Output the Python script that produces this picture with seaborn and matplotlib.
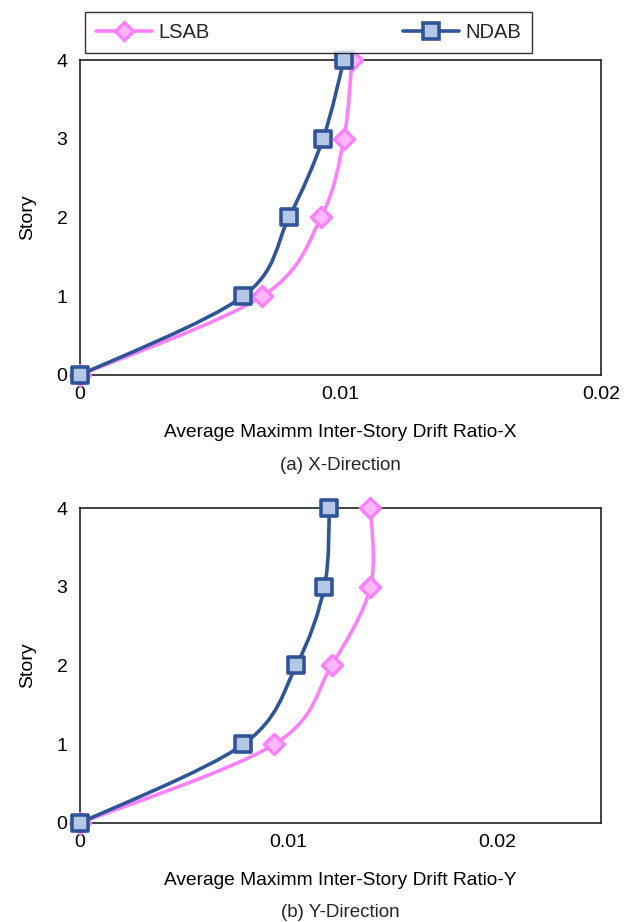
import numpy as np
import matplotlib
matplotlib.use("Agg")
import matplotlib.pyplot as plt
from matplotlib.path import Path
from matplotlib.patches import PathPatch
from matplotlib.lines import Line2D
import seaborn as sns

sns.set_theme(style="white")
plt.rcParams['font.family'] = ['Liberation Sans', 'DejaVu Sans']

stories = [0, 1, 2, 3, 4]
lsab_x = [0.0, 0.00699, 0.00925, 0.01013, 0.01044]
ndab_x = [0.0, 0.00626, 0.00802, 0.00933, 0.01013]
lsab_y = [0.0, 0.00933, 0.01207, 0.01394, 0.01394]
ndab_y = [0.0, 0.00784, 0.01038, 0.01173, 0.01197]

xlabels = ["Average Maximm Inter-Story Drift Ratio-X", "Average Maximm Inter-Story Drift Ratio-Y"]
captions = ["(a) X-Direction", "(b) Y-Direction"]
xlims = [(0, 0.02), (0, 0.025)]
xticks = [[0, 0.01, 0.02], [0, 0.01, 0.02]]
xticklabels = [["0", "0.01", "0.02"], ["0", "0.01", "0.02"]]

PINK = "#FF80FF"
PINK_FACE = "#FFB8FF"
BLUE = "#2F5597"
BLUE_FACE = "#B4C7E7"


def smooth_path(xs, ys):
    pts = np.column_stack([xs, ys]).astype(float)
    n = len(pts)
    verts = [pts[0]]
    codes = [Path.MOVETO]
    for i in range(n - 1):
        p0 = pts[i - 1] if i > 0 else pts[i]
        p1 = pts[i]
        p2 = pts[i + 1]
        p3 = pts[i + 2] if i + 2 < n else pts[i + 1]
        c1 = p1 + (p2 - p0) / 6.0
        c2 = p2 - (p3 - p1) / 6.0
        verts += [c1, c2, p2]
        codes += [Path.CURVE4] * 3
    return Path(verts, codes)


fig = plt.figure(figsize=(6.26, 9.22), dpi=100)
axes = [fig.add_axes([0.1278, 0.5933, 0.8322, 0.3416]),
        fig.add_axes([0.1278, 0.1074, 0.8322, 0.3416])]

series = [(lsab_x, ndab_x), (lsab_y, ndab_y)]

for k, ax in enumerate(axes):
    lx, nx = series[k]
    for xs, col in [(lx, PINK), (nx, BLUE)]:
        patch = PathPatch(smooth_path(xs, stories), facecolor='none', edgecolor=col,
                          lw=2.6, transform=ax.transData, zorder=3, clip_on=False)
        ax.add_patch(patch)
    sns.scatterplot(x=lx, y=stories, ax=ax, marker='D', s=105, color=PINK_FACE,
                    edgecolor=PINK, linewidth=2.4, zorder=4, clip_on=False)
    sns.scatterplot(x=nx, y=stories, ax=ax, marker='s', s=140, color=BLUE_FACE,
                    edgecolor=BLUE, linewidth=2.6, zorder=5, clip_on=False)
    ax.set_xlim(*xlims[k])
    ax.set_ylim(0, 4)
    ax.set_xticks(xticks[k])
    ax.set_xticklabels(xticklabels[k])
    ax.set_yticks(stories)
    ax.set_yticklabels([str(s) for s in stories])
    ax.tick_params(axis='both', direction='in', length=5, width=1.0, colors='#222222',
                   labelsize=14, labelcolor='black')
    ax.tick_params(axis='x', pad=8)
    ax.tick_params(axis='y', pad=9, length=0)
    for sp in ax.spines.values():
        sp.set_color('#222222')
        sp.set_linewidth(1.2)
    ax.set_xlabel(xlabels[k], fontsize=13.8, color='black', labelpad=15)
    ax.set_ylabel("Story", fontsize=14, color='black', labelpad=15)
    ax.set_facecolor('white')

fig.text(340 / 626, 1 - 465 / 922, captions[0], ha='center', va='center', fontsize=13.5)
fig.text(340 / 626, 1 - 912 / 922, captions[1], ha='center', va='center', fontsize=13.5)

handles = [Line2D([], [], color=PINK, lw=2.6, marker='D', markersize=9,
                  markerfacecolor=PINK_FACE, markeredgecolor=PINK, markeredgewidth=2.4),
           Line2D([], [], color=BLUE, lw=2.6, marker='s', markersize=11,
                  markerfacecolor=BLUE_FACE, markeredgecolor=BLUE, markeredgewidth=2.6)]
leg = fig.legend(handles, ["LSAB", "NDAB"], loc='upper left', ncol=2,
                 bbox_to_anchor=(85 / 626, 1 - 12 / 922),
                 frameon=True, fancybox=False, fontsize=14.5, handlelength=2.8,
                 columnspacing=9.6, borderaxespad=0, borderpad=0.55, handletextpad=0.3)
leg.get_frame().set_edgecolor('black')
leg.get_frame().set_linewidth(1.0)

fig.savefig("out.png", dpi=100, facecolor='white')
